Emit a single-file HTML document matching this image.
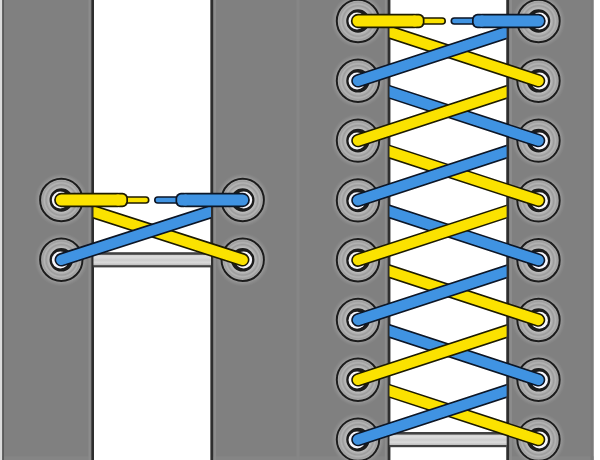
<!DOCTYPE html><html><head><meta charset="utf-8"><title>Lacing</title><style>html,body{margin:0;padding:0;background:#fff;overflow:hidden;font-family:"Liberation Sans",sans-serif;}svg{display:block;}</style></head><body><svg width="600" height="460" viewBox="0 0 600 460"><defs><radialGradient id="rg" cx="0.5" cy="0.5" r="0.5"><stop offset="0.55" stop-color="#c0c0c0"/><stop offset="0.64" stop-color="#b2b2b2"/><stop offset="0.72" stop-color="#9c9c9c"/><stop offset="0.8" stop-color="#b4b4b4"/><stop offset="0.88" stop-color="#a0a0a0"/><stop offset="0.95" stop-color="#acacac"/><stop offset="1" stop-color="#969696"/></radialGradient><radialGradient id="halo" cx="0.5" cy="0.5" r="0.5"><stop offset="0.8" stop-color="#9a9a9a"/><stop offset="0.88" stop-color="#8e8e8e"/><stop offset="1" stop-color="#888888" stop-opacity="0"/></radialGradient><linearGradient id="bar" x1="0" y1="0" x2="0" y2="1"><stop offset="0" stop-color="#cfcfcf"/><stop offset="0.2" stop-color="#dedede"/><stop offset="0.5" stop-color="#cdcdcd"/><stop offset="0.75" stop-color="#dadada"/><stop offset="1" stop-color="#bdbdbd"/></linearGradient><linearGradient id="barO" x1="0" y1="0" x2="0" y2="1"><stop offset="0" stop-color="#6a6a6a"/><stop offset="0.2" stop-color="#4a4a4a"/><stop offset="0.8" stop-color="#444"/><stop offset="1" stop-color="#5a5a5a"/></linearGradient><clipPath id="cL1"><rect x="93.5" y="0" width="210" height="460"/></clipPath><clipPath id="cR1"><rect x="0" y="0" width="211" height="460"/></clipPath><clipPath id="cL2"><rect x="389.5" y="0" width="210" height="460"/></clipPath><clipPath id="cR2"><rect x="300" y="0" width="206.6" height="460"/></clipPath><filter id="bl" x="-5%" y="-5%" width="110%" height="110%"><feGaussianBlur stdDeviation="0.42"/></filter></defs><g filter="url(#bl)"><rect x="-10" y="-10" width="620" height="480" fill="#fff"/><rect x="-10" y="-10" width="12.2" height="480" fill="#dcdcdc"/><rect x="2.2" y="-10" width="297.8" height="480" fill="#808080"/><rect x="2.2" y="456.3" width="297.8" height="14" fill="#858585"/><rect x="94" y="-10" width="116.5" height="480" fill="#fff"/><rect x="91.4" y="-10" width="2.6" height="480" fill="#2e2e2e"/><rect x="88.5" y="-10" width="2" height="480" fill="#8c8c8c"/><rect x="210.5" y="-10" width="2.6" height="480" fill="#2e2e2e"/><rect x="214.0" y="-10" width="2" height="480" fill="#8c8c8c"/><rect x="2.2" y="-10" width="1.8" height="480" fill="#5a5a5a"/><rect x="300" y="-10" width="293.5" height="480" fill="#808080"/><rect x="300" y="456.3" width="293.5" height="14" fill="#858585"/><rect x="390.3" y="-10" width="116.09999999999997" height="480" fill="#fff"/><rect x="387.7" y="-10" width="2.6" height="480" fill="#2e2e2e"/><rect x="384.8" y="-10" width="2" height="480" fill="#8c8c8c"/><rect x="506.4" y="-10" width="2.6" height="480" fill="#2e2e2e"/><rect x="509.9" y="-10" width="2" height="480" fill="#8c8c8c"/><rect x="296.5" y="-10" width="3" height="480" fill="#868686"/><rect x="590.5" y="-10" width="3" height="480" fill="#7a7a7a"/><rect x="93.5" y="252.20000000000002" width="117.5" height="15.2" fill="#434343"/><rect x="93.5" y="254.8" width="117.5" height="10.4" fill="url(#bar)"/><circle cx="61.3" cy="200" r="27" fill="url(#halo)"/><circle cx="61.3" cy="200" r="21.2" fill="url(#rg)" stroke="#1e1e1e" stroke-width="2.0"/><circle cx="61.3" cy="200" r="10.8" fill="#1e1e1e" stroke="#1e1e1e" stroke-width="2.0"/><circle cx="60.30" cy="200.00" r="8.5" fill="#f6f6fb"/><circle cx="242.7" cy="200" r="27" fill="url(#halo)"/><circle cx="242.7" cy="200" r="21.2" fill="url(#rg)" stroke="#1e1e1e" stroke-width="2.0"/><circle cx="242.7" cy="200" r="10.8" fill="#1e1e1e" stroke="#1e1e1e" stroke-width="2.0"/><circle cx="243.70" cy="200.00" r="8.5" fill="#f6f6fb"/><circle cx="61.3" cy="259.8" r="27" fill="url(#halo)"/><circle cx="61.3" cy="259.8" r="21.2" fill="url(#rg)" stroke="#1e1e1e" stroke-width="2.0"/><circle cx="61.3" cy="259.8" r="10.8" fill="#1e1e1e" stroke="#1e1e1e" stroke-width="2.0"/><circle cx="60.35" cy="260.11" r="8.5" fill="#f6f6fb"/><circle cx="242.7" cy="259.8" r="27" fill="url(#halo)"/><circle cx="242.7" cy="259.8" r="21.2" fill="url(#rg)" stroke="#1e1e1e" stroke-width="2.0"/><circle cx="242.7" cy="259.8" r="10.8" fill="#1e1e1e" stroke="#1e1e1e" stroke-width="2.0"/><circle cx="243.65" cy="260.11" r="8.5" fill="#f6f6fb"/><g clip-path="url(#cL1)"><line x1="61.3" y1="201.5" x2="242.7" y2="259.8" stroke="#1e1a02" stroke-width="13.5" stroke-linecap="round"/><line x1="61.3" y1="201.5" x2="242.7" y2="259.8" stroke="#fbe200" stroke-width="10.3" stroke-linecap="round"/></g><g clip-path="url(#cR1)"><line x1="61.3" y1="259.8" x2="242.7" y2="201.5" stroke="#0b1526" stroke-width="13.5" stroke-linecap="round"/><line x1="61.3" y1="259.8" x2="242.7" y2="201.5" stroke="#3f93e2" stroke-width="10.3" stroke-linecap="round"/></g><line x1="122.5" y1="200" x2="145.7" y2="200" stroke="#1e1a02" stroke-width="7.6" stroke-linecap="round"/><line x1="122.5" y1="200" x2="145.7" y2="200" stroke="#fbe200" stroke-width="4.4" stroke-linecap="round"/><line x1="157.8" y1="200" x2="182.5" y2="200" stroke="#0b1526" stroke-width="7.6" stroke-linecap="round"/><line x1="157.8" y1="200" x2="182.5" y2="200" stroke="#3f93e2" stroke-width="4.4" stroke-linecap="round"/><line x1="61.3" y1="200" x2="118.0" y2="200" stroke="#1e1a02" stroke-width="14.4" stroke-linecap="round"/><rect x="114.0" y="192.8" width="14" height="14.4" rx="5.5" fill="#1e1a02"/><line x1="61.3" y1="200" x2="118.0" y2="200" stroke="#fbe200" stroke-width="11.0" stroke-linecap="round"/><rect x="114.0" y="194.5" width="12.3" height="11.0" rx="4.2" fill="#fbe200"/><line x1="185.5" y1="200" x2="242.7" y2="200" stroke="#0b1526" stroke-width="14.4" stroke-linecap="round"/><rect x="175.5" y="192.8" width="14" height="14.4" rx="5.5" fill="#0b1526"/><line x1="185.5" y1="200" x2="242.7" y2="200" stroke="#3f93e2" stroke-width="11.0" stroke-linecap="round"/><rect x="177.2" y="194.5" width="12.3" height="11.0" rx="4.2" fill="#3f93e2"/><rect x="389.5" y="431.99999999999994" width="117.10000000000002" height="15.2" fill="#434343"/><rect x="389.5" y="434.59999999999997" width="117.10000000000002" height="10.4" fill="url(#bar)"/><circle cx="358" cy="21.0" r="27" fill="url(#halo)"/><circle cx="358" cy="21.0" r="21.2" fill="url(#rg)" stroke="#1e1e1e" stroke-width="2.0"/><circle cx="358" cy="21.0" r="10.8" fill="#1e1e1e" stroke="#1e1e1e" stroke-width="2.0"/><circle cx="357.00" cy="21.00" r="8.5" fill="#f6f6fb"/><circle cx="538.5" cy="21.0" r="27" fill="url(#halo)"/><circle cx="538.5" cy="21.0" r="21.2" fill="url(#rg)" stroke="#1e1e1e" stroke-width="2.0"/><circle cx="538.5" cy="21.0" r="10.8" fill="#1e1e1e" stroke="#1e1e1e" stroke-width="2.0"/><circle cx="539.50" cy="21.00" r="8.5" fill="#f6f6fb"/><circle cx="358" cy="80.8" r="27" fill="url(#halo)"/><circle cx="358" cy="80.8" r="21.2" fill="url(#rg)" stroke="#1e1e1e" stroke-width="2.0"/><circle cx="358" cy="80.8" r="10.8" fill="#1e1e1e" stroke="#1e1e1e" stroke-width="2.0"/><circle cx="357.05" cy="81.11" r="8.5" fill="#f6f6fb"/><circle cx="538.5" cy="80.8" r="27" fill="url(#halo)"/><circle cx="538.5" cy="80.8" r="21.2" fill="url(#rg)" stroke="#1e1e1e" stroke-width="2.0"/><circle cx="538.5" cy="80.8" r="10.8" fill="#1e1e1e" stroke="#1e1e1e" stroke-width="2.0"/><circle cx="539.45" cy="81.11" r="8.5" fill="#f6f6fb"/><circle cx="358" cy="140.6" r="27" fill="url(#halo)"/><circle cx="358" cy="140.6" r="21.2" fill="url(#rg)" stroke="#1e1e1e" stroke-width="2.0"/><circle cx="358" cy="140.6" r="10.8" fill="#1e1e1e" stroke="#1e1e1e" stroke-width="2.0"/><circle cx="357.05" cy="140.91" r="8.5" fill="#f6f6fb"/><circle cx="538.5" cy="140.6" r="27" fill="url(#halo)"/><circle cx="538.5" cy="140.6" r="21.2" fill="url(#rg)" stroke="#1e1e1e" stroke-width="2.0"/><circle cx="538.5" cy="140.6" r="10.8" fill="#1e1e1e" stroke="#1e1e1e" stroke-width="2.0"/><circle cx="539.45" cy="140.91" r="8.5" fill="#f6f6fb"/><circle cx="358" cy="200.39999999999998" r="27" fill="url(#halo)"/><circle cx="358" cy="200.39999999999998" r="21.2" fill="url(#rg)" stroke="#1e1e1e" stroke-width="2.0"/><circle cx="358" cy="200.39999999999998" r="10.8" fill="#1e1e1e" stroke="#1e1e1e" stroke-width="2.0"/><circle cx="357.05" cy="200.71" r="8.5" fill="#f6f6fb"/><circle cx="538.5" cy="200.39999999999998" r="27" fill="url(#halo)"/><circle cx="538.5" cy="200.39999999999998" r="21.2" fill="url(#rg)" stroke="#1e1e1e" stroke-width="2.0"/><circle cx="538.5" cy="200.39999999999998" r="10.8" fill="#1e1e1e" stroke="#1e1e1e" stroke-width="2.0"/><circle cx="539.45" cy="200.71" r="8.5" fill="#f6f6fb"/><circle cx="358" cy="260.2" r="27" fill="url(#halo)"/><circle cx="358" cy="260.2" r="21.2" fill="url(#rg)" stroke="#1e1e1e" stroke-width="2.0"/><circle cx="358" cy="260.2" r="10.8" fill="#1e1e1e" stroke="#1e1e1e" stroke-width="2.0"/><circle cx="357.05" cy="260.51" r="8.5" fill="#f6f6fb"/><circle cx="538.5" cy="260.2" r="27" fill="url(#halo)"/><circle cx="538.5" cy="260.2" r="21.2" fill="url(#rg)" stroke="#1e1e1e" stroke-width="2.0"/><circle cx="538.5" cy="260.2" r="10.8" fill="#1e1e1e" stroke="#1e1e1e" stroke-width="2.0"/><circle cx="539.45" cy="260.51" r="8.5" fill="#f6f6fb"/><circle cx="358" cy="320.0" r="27" fill="url(#halo)"/><circle cx="358" cy="320.0" r="21.2" fill="url(#rg)" stroke="#1e1e1e" stroke-width="2.0"/><circle cx="358" cy="320.0" r="10.8" fill="#1e1e1e" stroke="#1e1e1e" stroke-width="2.0"/><circle cx="357.05" cy="320.31" r="8.5" fill="#f6f6fb"/><circle cx="538.5" cy="320.0" r="27" fill="url(#halo)"/><circle cx="538.5" cy="320.0" r="21.2" fill="url(#rg)" stroke="#1e1e1e" stroke-width="2.0"/><circle cx="538.5" cy="320.0" r="10.8" fill="#1e1e1e" stroke="#1e1e1e" stroke-width="2.0"/><circle cx="539.45" cy="320.31" r="8.5" fill="#f6f6fb"/><circle cx="358" cy="379.79999999999995" r="27" fill="url(#halo)"/><circle cx="358" cy="379.79999999999995" r="21.2" fill="url(#rg)" stroke="#1e1e1e" stroke-width="2.0"/><circle cx="358" cy="379.79999999999995" r="10.8" fill="#1e1e1e" stroke="#1e1e1e" stroke-width="2.0"/><circle cx="357.05" cy="380.11" r="8.5" fill="#f6f6fb"/><circle cx="538.5" cy="379.79999999999995" r="27" fill="url(#halo)"/><circle cx="538.5" cy="379.79999999999995" r="21.2" fill="url(#rg)" stroke="#1e1e1e" stroke-width="2.0"/><circle cx="538.5" cy="379.79999999999995" r="10.8" fill="#1e1e1e" stroke="#1e1e1e" stroke-width="2.0"/><circle cx="539.45" cy="380.11" r="8.5" fill="#f6f6fb"/><circle cx="358" cy="439.59999999999997" r="27" fill="url(#halo)"/><circle cx="358" cy="439.59999999999997" r="21.2" fill="url(#rg)" stroke="#1e1e1e" stroke-width="2.0"/><circle cx="358" cy="439.59999999999997" r="10.8" fill="#1e1e1e" stroke="#1e1e1e" stroke-width="2.0"/><circle cx="357.05" cy="439.91" r="8.5" fill="#f6f6fb"/><circle cx="538.5" cy="439.59999999999997" r="27" fill="url(#halo)"/><circle cx="538.5" cy="439.59999999999997" r="21.2" fill="url(#rg)" stroke="#1e1e1e" stroke-width="2.0"/><circle cx="538.5" cy="439.59999999999997" r="10.8" fill="#1e1e1e" stroke="#1e1e1e" stroke-width="2.0"/><circle cx="539.45" cy="439.91" r="8.5" fill="#f6f6fb"/><g clip-path="url(#cL2)"><line x1="358" y1="21.8" x2="538.5" y2="80.8" stroke="#1e1a02" stroke-width="13.5" stroke-linecap="round"/><line x1="358" y1="21.8" x2="538.5" y2="80.8" stroke="#fbe200" stroke-width="10.3" stroke-linecap="round"/></g><g clip-path="url(#cR2)"><line x1="358" y1="80.8" x2="538.5" y2="21.8" stroke="#0b1526" stroke-width="13.5" stroke-linecap="round"/><line x1="358" y1="80.8" x2="538.5" y2="21.8" stroke="#3f93e2" stroke-width="10.3" stroke-linecap="round"/></g><g clip-path="url(#cL2)"><line x1="358" y1="81.6" x2="538.5" y2="140.6" stroke="#0b1526" stroke-width="13.5" stroke-linecap="round"/><line x1="358" y1="81.6" x2="538.5" y2="140.6" stroke="#3f93e2" stroke-width="10.3" stroke-linecap="round"/></g><g clip-path="url(#cR2)"><line x1="358" y1="140.6" x2="538.5" y2="81.6" stroke="#1e1a02" stroke-width="13.5" stroke-linecap="round"/><line x1="358" y1="140.6" x2="538.5" y2="81.6" stroke="#fbe200" stroke-width="10.3" stroke-linecap="round"/></g><g clip-path="url(#cL2)"><line x1="358" y1="141.4" x2="538.5" y2="200.39999999999998" stroke="#1e1a02" stroke-width="13.5" stroke-linecap="round"/><line x1="358" y1="141.4" x2="538.5" y2="200.39999999999998" stroke="#fbe200" stroke-width="10.3" stroke-linecap="round"/></g><g clip-path="url(#cR2)"><line x1="358" y1="200.39999999999998" x2="538.5" y2="141.4" stroke="#0b1526" stroke-width="13.5" stroke-linecap="round"/><line x1="358" y1="200.39999999999998" x2="538.5" y2="141.4" stroke="#3f93e2" stroke-width="10.3" stroke-linecap="round"/></g><g clip-path="url(#cL2)"><line x1="358" y1="201.2" x2="538.5" y2="260.2" stroke="#0b1526" stroke-width="13.5" stroke-linecap="round"/><line x1="358" y1="201.2" x2="538.5" y2="260.2" stroke="#3f93e2" stroke-width="10.3" stroke-linecap="round"/></g><g clip-path="url(#cR2)"><line x1="358" y1="260.2" x2="538.5" y2="201.2" stroke="#1e1a02" stroke-width="13.5" stroke-linecap="round"/><line x1="358" y1="260.2" x2="538.5" y2="201.2" stroke="#fbe200" stroke-width="10.3" stroke-linecap="round"/></g><g clip-path="url(#cL2)"><line x1="358" y1="261.0" x2="538.5" y2="320.0" stroke="#1e1a02" stroke-width="13.5" stroke-linecap="round"/><line x1="358" y1="261.0" x2="538.5" y2="320.0" stroke="#fbe200" stroke-width="10.3" stroke-linecap="round"/></g><g clip-path="url(#cR2)"><line x1="358" y1="320.0" x2="538.5" y2="261.0" stroke="#0b1526" stroke-width="13.5" stroke-linecap="round"/><line x1="358" y1="320.0" x2="538.5" y2="261.0" stroke="#3f93e2" stroke-width="10.3" stroke-linecap="round"/></g><g clip-path="url(#cL2)"><line x1="358" y1="320.8" x2="538.5" y2="379.79999999999995" stroke="#0b1526" stroke-width="13.5" stroke-linecap="round"/><line x1="358" y1="320.8" x2="538.5" y2="379.79999999999995" stroke="#3f93e2" stroke-width="10.3" stroke-linecap="round"/></g><g clip-path="url(#cR2)"><line x1="358" y1="379.79999999999995" x2="538.5" y2="320.8" stroke="#1e1a02" stroke-width="13.5" stroke-linecap="round"/><line x1="358" y1="379.79999999999995" x2="538.5" y2="320.8" stroke="#fbe200" stroke-width="10.3" stroke-linecap="round"/></g><g clip-path="url(#cL2)"><line x1="358" y1="380.59999999999997" x2="538.5" y2="439.59999999999997" stroke="#1e1a02" stroke-width="13.5" stroke-linecap="round"/><line x1="358" y1="380.59999999999997" x2="538.5" y2="439.59999999999997" stroke="#fbe200" stroke-width="10.3" stroke-linecap="round"/></g><g clip-path="url(#cR2)"><line x1="358" y1="439.59999999999997" x2="538.5" y2="380.59999999999997" stroke="#0b1526" stroke-width="13.5" stroke-linecap="round"/><line x1="358" y1="439.59999999999997" x2="538.5" y2="380.59999999999997" stroke="#3f93e2" stroke-width="10.3" stroke-linecap="round"/></g><line x1="419" y1="21.0" x2="442.2" y2="21.0" stroke="#1e1a02" stroke-width="7.6" stroke-linecap="round"/><line x1="419" y1="21.0" x2="442.2" y2="21.0" stroke="#fbe200" stroke-width="4.4" stroke-linecap="round"/><line x1="454.3" y1="21.0" x2="479" y2="21.0" stroke="#0b1526" stroke-width="7.6" stroke-linecap="round"/><line x1="454.3" y1="21.0" x2="479" y2="21.0" stroke="#3f93e2" stroke-width="4.4" stroke-linecap="round"/><line x1="358" y1="21.0" x2="414.5" y2="21.0" stroke="#1e1a02" stroke-width="14.4" stroke-linecap="round"/><rect x="410.5" y="13.8" width="14" height="14.4" rx="5.5" fill="#1e1a02"/><line x1="358" y1="21.0" x2="414.5" y2="21.0" stroke="#fbe200" stroke-width="11.0" stroke-linecap="round"/><rect x="410.5" y="15.5" width="12.3" height="11.0" rx="4.2" fill="#fbe200"/><line x1="482" y1="21.0" x2="538.5" y2="21.0" stroke="#0b1526" stroke-width="14.4" stroke-linecap="round"/><rect x="472" y="13.8" width="14" height="14.4" rx="5.5" fill="#0b1526"/><line x1="482" y1="21.0" x2="538.5" y2="21.0" stroke="#3f93e2" stroke-width="11.0" stroke-linecap="round"/><rect x="473.7" y="15.5" width="12.3" height="11.0" rx="4.2" fill="#3f93e2"/></g></svg></body></html>
